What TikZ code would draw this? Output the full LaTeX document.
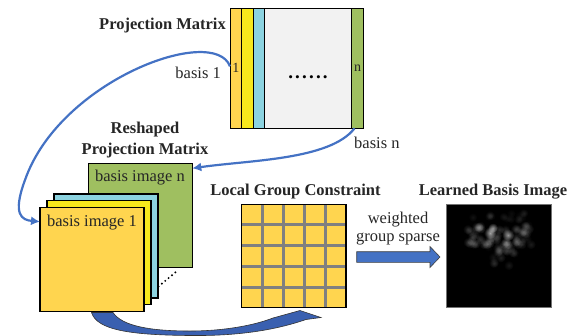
\documentclass[tikz,border=0pt]{standalone}
\usepackage{fontspec}
\setmainfont{Liberation Serif}
\usetikzlibrary{calc,arrows.meta}
\definecolor{corange}{HTML}{FFD54F}
\definecolor{cyellow}{HTML}{F7E81C}
\definecolor{ccyan}{HTML}{8CD3E0}
\definecolor{cgray}{HTML}{F2F2F2}
\definecolor{cgreen}{HTML}{9FBF60}
\definecolor{cblue}{HTML}{4472C4}
\definecolor{cdblue}{HTML}{3A60B0}
\definecolor{ctext}{HTML}{262626}
\definecolor{cgrid}{HTML}{808080}
\tikzset{
  rect/.style={draw=black, line width=1pt, inner sep=0pt, outer sep=0pt, anchor=north west},
  layer/.style={draw=black, line width=1.4pt, inner sep=0pt, outer sep=0pt, anchor=north west,
                minimum width=104pt, minimum height=104pt},
  title/.style={font=\fontsize{16.5}{21}\selectfont\bfseries, text=ctext, inner sep=0pt},
  lbl/.style={font=\fontsize{16.5}{20}\selectfont, text=ctext, inner sep=0pt},
  conn/.style={draw=cblue, line width=2.2pt, -{Latex[length=9pt,width=9pt]}},
  blockarrow/.style={fill=cblue, draw=black!75, line width=0.6pt},
}
\begin{document}
\begin{tikzpicture}[x=1pt,y=-1pt]
\useasboundingbox (0,0) rectangle (575,335);

% ---- Projection matrix ----
\node[rect, fill=corange, minimum width=11.5pt, minimum height=120pt,
      font=\fontsize{14}{16}\selectfont, text=ctext] (col1) at (230,8.3) {1};
\node[rect, fill=cyellow, minimum width=11.7pt, minimum height=120pt] (col2) at (241.5,8.3) {};
\node[rect, fill=ccyan, minimum width=11.1pt, minimum height=120pt] (col3) at (253.2,8.3) {};
\node[rect, fill=cgray, minimum width=87.5pt, minimum height=120pt] (colg) at (264.3,8.3) {};
\node[rect, fill=cgreen, minimum width=11.5pt, minimum height=120pt,
      font=\fontsize{14}{16}\selectfont, text=ctext] (coln) at (351.8,8.3) {n};
\node[font=\fontsize{19}{20}\selectfont\bfseries, inner sep=0pt, anchor=base] (dots) at (308,78)
  {.\hspace{2.2pt}.\hspace{2.2pt}.\hspace{2.2pt}.\hspace{2.2pt}.\hspace{2.2pt}.};

\node[title, anchor=base east] (tpm) at (226,29.5) {Projection Matrix};
\node[lbl, anchor=base east] (b1) at (221,78) {basis 1};
\node[lbl, anchor=base west] (bn) at (354,148) {basis n};

% ---- Reshaped stack ----
\node[title, anchor=base] (trs1) at (145,133) {Reshaped};
\node[title, anchor=base] (trs2) at (145,154.5) {Projection Matrix};
\node[layer, fill=cgreen] (layn) at (88.3,163.3) {};
\node[lbl, anchor=base] (tln) at (140,181.7) {basis image n};
\node[layer, fill=ccyan] (layc) at (54,194) {};
\node[layer, fill=cyellow] (layy) at (47,200.7) {};
\node[layer, fill=corange] (img1) at (40,207.7) {};
\node[lbl, anchor=base] (tl1) at (92,226) {basis image 1};
\draw[line width=2.2pt, line cap=round, dash pattern=on 0pt off 4.4pt] (158.5,286.5) -- (177,271);

% ---- Local group constraint ----
\node[title, anchor=base] (tlg) at (295.5,195) {Local Group Constraint};
\node[inner sep=0pt, outer sep=0pt, anchor=north west, fill=corange,
      minimum width=104.3pt, minimum height=103.4pt] (grid) at (241.7,204.3) {};
\foreach \i in {1,...,4}{
  \draw[cgrid, line width=3pt] ($(grid.north west)!\i/5!(grid.north east)$) -- ($(grid.south west)!\i/5!(grid.south east)$);
  \draw[cgrid, line width=3pt] ($(grid.north west)!\i/5!(grid.south west)$) -- ($(grid.north east)!\i/5!(grid.south east)$);
}
\draw[black, line width=1.3pt] (grid.north west) rectangle (grid.south east);

% ---- Learned basis image ----
\node[title, anchor=base] (tlb) at (493,195) {Learned Basis Image};
\node[inner sep=0pt, outer sep=0pt, anchor=north west, fill=black, draw=black!55, line width=0.8pt,
      minimum width=104.3pt, minimum height=103.4pt] (learn) at (446.7,204.3) {};
\begin{scope}[blend mode=screen]
  \clip (learn.north west) rectangle (learn.south east);
  \pgfmathsetseed{12}
  % faint top row
  \foreach \k in {1,...,14}{
    \pgfmathsetmacro{\xx}{470+60*rnd}
    \pgfmathsetmacro{\yy}{213+7*rnd}
    \pgfmathtruncatemacro{\cc}{4+6*rnd}
    \shade[inner color=white!\cc!black, outer color=black] (\xx,\yy) circle (4.5);
  }
  % main band
  \foreach \k in {1,...,60}{
    \pgfmathsetmacro{\xx}{467+65*rnd}
    \pgfmathsetmacro{\yy}{225+20*rnd}
    \pgfmathtruncatemacro{\cc}{6+15*rnd}
    \shade[inner color=white!\cc!black, outer color=black] (\xx,\yy) circle (5);
  }
  % lower blob
  \foreach \k in {1,...,22}{
    \pgfmathsetmacro{\xx}{487+28*rnd}
    \pgfmathsetmacro{\yy}{244+22*rnd}
    \pgfmathtruncatemacro{\cc}{4+10*rnd}
    \shade[inner color=white!\cc!black, outer color=black] (\xx,\yy) circle (5);
  }
  % bright spots
  \shade[inner color=white!60!black, outer color=black] (490,233) circle (6);
  \shade[inner color=white!55!black, outer color=black] (508,235) circle (6);
  \shade[inner color=white!30!black, outer color=black] (493,228) circle (5);
  \shade[inner color=white!30!black, outer color=black] (506,242) circle (5);
\end{scope}

% ---- weighted group sparse arrow ----
\node[lbl, anchor=base] (tw1) at (398,223) {weighted};
\node[lbl, anchor=base] (tw2) at (398,241.7) {group sparse};
\coordinate (wa) at ($(grid.east)+(10.7,1)$);
\coordinate (wb) at ($(learn.west)+(-6.7,1)$);
\draw[blockarrow] ($(wa)+(0,-5.3)$) -- ($(wb)+(-10,-5.3)$) -- ($(wb)+(-10,-10.5)$) -- (wb)
   -- ($(wb)+(-10,10.5)$) -- ($(wb)+(-10,5.3)$) -- ($(wa)+(0,5.3)$) -- cycle;

% ---- curved connectors ----
\draw[conn] ([yshift=2pt]col1.west) .. controls (214,24) and (60,80) .. (25,180)
   .. controls (12,215) and (22,220) .. ([yshift=38pt]img1.west);
\draw[conn] ([xshift=-3pt]coln.south) .. controls (330,160) and (250,160) .. ([yshift=-5pt]layn.north east);

% ---- bottom curved block arrow ----
\fill[cdblue, draw=black!80, line width=0.6pt]
  (91.5,312.5) -- (113,312.5) .. controls (122,326) and (150,331) .. (190,331)
  .. controls (225,331) and (255,325) .. (273,318)
  -- (300,310.5) -- (321,317.5) -- (306,319.5)
  .. controls (270,332) and (230,336) .. (190,335.5)
  .. controls (130,335) and (97,330) .. (91.5,312.5) -- cycle;
\end{tikzpicture}
\end{document}
